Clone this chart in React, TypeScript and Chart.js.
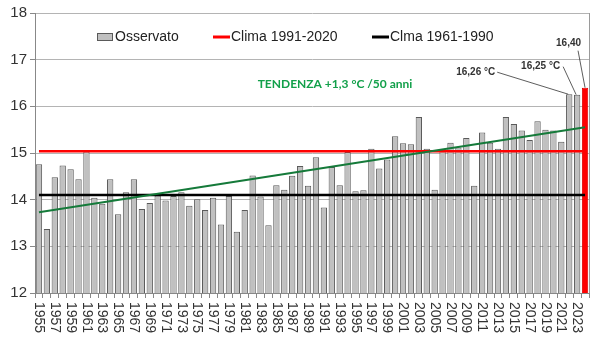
import React, { useEffect, useRef } from "react";
import { Chart, registerables } from "chart.js";

Chart.register(...registerables);

const years: string[] = [
  "1955","1956","1957","1958","1959","1960","1961","1962","1963","1964",
  "1965","1966","1967","1968","1969","1970","1971","1972","1973","1974",
  "1975","1976","1977","1978","1979","1980","1981","1982","1983","1984",
  "1985","1986","1987","1988","1989","1990","1991","1992","1993","1994",
  "1995","1996","1997","1998","1999","2000","2001","2002","2003","2004",
  "2005","2006","2007","2008","2009","2010","2011","2012","2013","2014",
  "2015","2016","2017","2018","2019","2020","2021","2022","2023","2024",
];

const observed: number[] = [
  14.76, 13.37, 14.48, 14.73, 14.65, 14.44, 15.03, 14.04, 13.91, 14.44,
  13.69, 14.16, 14.44, 13.80, 13.93, 14.09, 13.98, 14.08, 14.16, 13.87,
  14.01, 13.78, 14.04, 13.47, 14.08, 13.31, 13.78, 14.52, 14.07, 13.45,
  14.31, 14.21, 14.51, 14.72, 14.30, 14.91, 13.83, 14.70, 14.31, 15.02,
  14.18, 14.20, 15.09, 14.67, 14.86, 15.36, 15.21, 15.19, 15.77, 15.09,
  14.21, 15.05, 15.22, 15.12, 15.32, 14.30, 15.44, 15.22, 15.09, 15.77,
  15.62, 15.48, 15.28, 15.68, 15.50, 15.48, 15.24, 16.26, 16.25, 16.40,
];

const xTickLabels: string[] = [
  "1955","1957","1959","1961","1963","1965","1967","1969","1971","1973",
  "1975","1977","1979","1981","1983","1985","1987","1989","1991","1993",
  "1995","1997","1999","2001","2003","2005","2007","2009","2011","2013",
  "2015","2017","2019","2021","2023",
];

const yTicks: number[] = [12, 13, 14, 15, 16, 17, 18];

const clima9120 = 15.04;
const clima6190 = 14.1;
const trendStart = 13.73;
const trendEnd = 15.55;

const legendLabels = ["Osservato", "Clima 1991-2020", "Clma 1961-1990"];
const trendLabel = "TENDENZA +1,3 °C /50 anni";
const callouts = [
  { year: "2022", text: "16,26 °C" },
  { year: "2023", text: "16,25 °C" },
  { year: "2024", text: "16,40" },
];

const FONT = "'Liberation Sans', Arial, sans-serif";

export default function App() {
  const ref = useRef<HTMLCanvasElement | null>(null);

  useEffect(() => {
    document.body.style.margin = "0";
    const canvas = ref.current;
    if (!canvas) return;

    const lastYear = years[years.length - 1];
    const barColors = years.map((y) => (y === lastYear ? "#ff0000" : "#c0c0c0"));
    const barBorders = years.map((y) => (y === lastYear ? "#e00000" : "#5a5a5a"));

    const overlay = {
      id: "overlay",
      afterDraw(chart: any) {
        const ctx = chart.ctx as CanvasRenderingContext2D;
        const xs = chart.scales.x;
        const ys = chart.scales.y;
        const area = chart.chartArea;
        ctx.save();

        // right border
        ctx.strokeStyle = "#9a9a9a";
        ctx.lineWidth = 1;
        ctx.beginPath();
        ctx.moveTo(Math.round(area.right) + 0.5, area.top);
        ctx.lineTo(Math.round(area.right) + 0.5, area.bottom);
        ctx.stroke();

        // x labels, rotated clockwise
        ctx.fillStyle = "#333";
        ctx.font = `14px ${FONT}`;
        ctx.textAlign = "left";
        ctx.textBaseline = "middle";
        xTickLabels.forEach((lab) => {
          const idx = years.indexOf(lab);
          const x = xs.getPixelForValue(idx);
          ctx.save();
          ctx.translate(x, xs.top + 9);
          ctx.rotate(Math.PI / 2);
          ctx.fillText(lab, 0, 0);
          ctx.restore();
        });

        // legend
        const ly = area.top + 24;
        ctx.font = `14px ${FONT}`;
        ctx.textBaseline = "middle";
        ctx.textAlign = "left";
        ctx.fillStyle = "#c0c0c0";
        ctx.fillRect(area.left + 62, ly - 4, 16, 8);
        ctx.strokeStyle = "#5a5a5a";
        ctx.strokeRect(area.left + 62.5, ly - 3.5, 15, 7);
        ctx.fillStyle = "#222";
        ctx.fillText(legendLabels[0], area.left + 80, ly);
        ctx.strokeStyle = "#ff0000";
        ctx.lineWidth = 3;
        ctx.beginPath();
        ctx.moveTo(area.left + 178, ly);
        ctx.lineTo(area.left + 195, ly);
        ctx.stroke();
        ctx.fillText(legendLabels[1], area.left + 196, ly);
        ctx.strokeStyle = "#000";
        ctx.beginPath();
        ctx.moveTo(area.left + 337, ly);
        ctx.lineTo(area.left + 354, ly);
        ctx.stroke();
        ctx.fillText(legendLabels[2], area.left + 355, ly);

        // trend label
        ctx.fillStyle = "#12a04a";
        ctx.font = `bold 12px Lato, ${FONT}`;
        ctx.textAlign = "center";
        ctx.fillText(trendLabel, area.left + 300, ys.getPixelForValue(16.48));

        // callouts
        ctx.font = `bold 10px ${FONT}`;
        ctx.fillStyle = "#333";
        ctx.strokeStyle = "#333";
        ctx.lineWidth = 0.8;
        const offsets = [
          { dx: -74, dy: -22, lx: -72, ex: -1 },
          { dx: -17, dy: -28, lx: -14, ex: -1 },
          { dx: -4, dy: -44, lx: -7, ex: 0 },
        ];
        callouts.forEach((c, i) => {
          const idx = years.indexOf(c.year);
          const bx = xs.getPixelForValue(idx);
          const by = ys.getPixelForValue(observed[idx]);
          const o = offsets[i];
          ctx.textAlign = "right";
          ctx.textBaseline = "middle";
          ctx.fillText(c.text, bx + o.dx, by + o.dy);
          ctx.beginPath();
          if (i === 2) {
            ctx.moveTo(bx + o.lx, by + o.dy + 7);
          } else {
            ctx.moveTo(bx + o.lx, by + o.dy);
          }
          ctx.lineTo(bx + o.ex, by);
          ctx.stroke();
        });

        ctx.restore();
      },
    };

    const chart = new Chart(canvas, {
      type: "bar",
      data: {
        labels: years,
        datasets: [
          {
            type: "line",
            label: legendLabels[1],
            data: [
              { x: years[0], y: clima9120 },
              { x: lastYear, y: clima9120 },
            ] as any,
            borderColor: "#ff0000",
            borderWidth: 2.5,
            pointRadius: 0,
            order: 1,
          },
          {
            type: "line",
            label: legendLabels[2],
            data: [
              { x: years[0], y: clima6190 },
              { x: lastYear, y: clima6190 },
            ] as any,
            borderColor: "#000000",
            borderWidth: 2.5,
            pointRadius: 0,
            order: 1,
          },
          {
            type: "line",
            label: "Tendenza",
            data: [
              { x: years[0], y: trendStart },
              { x: lastYear, y: trendEnd },
            ] as any,
            borderColor: "#157a3a",
            borderWidth: 2,
            pointRadius: 0,
            order: 0,
          },
          {
            type: "bar",
            label: legendLabels[0],
            data: observed,
            backgroundColor: barColors,
            borderColor: barBorders,
            borderWidth: 1,
            barPercentage: 0.8,
            categoryPercentage: 1,
            order: 2,
          },
        ],
      },
      options: {
        responsive: false,
        animation: false,
        layout: { padding: { top: 13, right: 11, left: 0, bottom: 0 } },
        plugins: {
          legend: { display: false },
          tooltip: { enabled: false },
        },
        scales: {
          x: {
            offset: true,
            ticks: { display: false },
            grid: {
              offset: true,
              drawOnChartArea: false,
              drawTicks: true,
              tickLength: 5,
              color: "#888",
            },
            border: { display: true, color: "#888", width: 1 },
            afterFit(scale: any) {
              scale.height = 52;
            },
          },
          y: {
            min: 12,
            max: 18,
            afterBuildTicks(scale: any) {
              scale.ticks = yTicks.map((v) => ({ value: v }));
            },
            ticks: {
              color: "#333",
              font: { family: FONT, size: 15 },
              padding: 3,
            },
            grid: {
              color: "#b4b4b4",
              drawTicks: true,
              tickLength: 5,
              tickColor: "#888",
            },
            border: { display: true, color: "#888", width: 1 },
            afterFit(scale: any) {
              scale.width = 35;
            },
          },
        },
      },
      plugins: [overlay],
    });

    return () => chart.destroy();
  }, []);

  return (
    <div style={{ width: 600, height: 345 }}>
      <canvas ref={ref} width={600} height={345} />
    </div>
  );
}
